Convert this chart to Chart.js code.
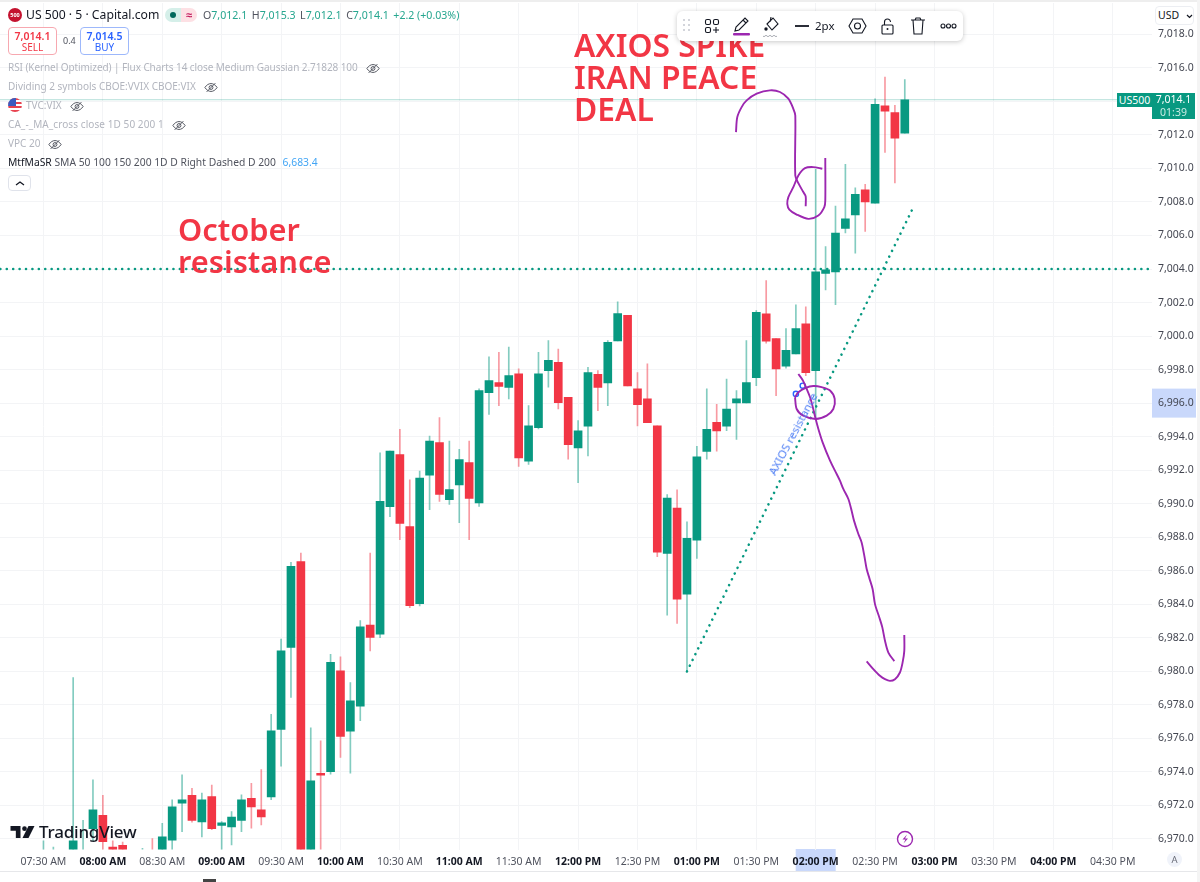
<!DOCTYPE html>
<html>
<head>
<meta charset="utf-8">
<title>US 500</title>
<script src="https://cdn.jsdelivr.net/npm/chart.js@4"></script>
<style>
html, body { margin: 0; padding: 0; background: #fff; }
body { width: 1200px; height: 882px; position: relative; overflow: hidden; font-family: "Noto Sans", sans-serif; color: #131722; }
canvas { position: absolute; left: 0; top: 0; }
.abs { position: absolute; white-space: nowrap; }
.leg { position: absolute; left: 8px; font-size: 10px; line-height: 14px; color: #b2b5be; white-space: nowrap; }
.leg svg { vertical-align: -3px; margin-left: 8px; }
.red { position: absolute; color: #f23645; font-weight: 600; white-space: nowrap; }
.box { position: absolute; box-sizing: border-box; border-radius: 4px; text-align: center; background: #fff; }
.ohlc { color: #50535e; }
.ohlc b { font-weight: 400; color: #26a68f; margin-right: 4.5px; }
.tb { position: absolute; top: 0; }
</style>
</head>
<body>
<canvas id="priceChart" width="1200" height="882"></canvas>

<div class="abs" style="left:0;top:0;width:1200px;height:2px;background:#eeeeee"></div>
<div class="abs" style="left:1197px;top:0;width:3px;height:882px;background:#f4f4f4"></div>
<div class="abs" style="left:0;top:871px;width:1197px;height:1px;background:#e6e7ea"></div>
<div class="abs" style="left:203px;top:879px;width:13px;height:3px;background:#444"></div>

<!-- header -->
<div class="abs" style="left:8px;top:8px;width:14px;height:14px;border-radius:50%;background:#c4122f;color:#fff;font-size:5.5px;line-height:14px;text-align:center;font-weight:700">500</div>
<div class="abs" style="left:26px;top:6px;font-size:12.2px;line-height:18px">US 500 · 5 · Capital.com</div>
<div class="abs" style="left:165px;top:8px;width:16px;height:14px;border-radius:7px 0 0 7px;background:#d5efe9"></div>
<div class="abs" style="left:181px;top:8px;width:16px;height:14px;border-radius:0 7px 7px 0;background:#fde0e4;color:#c2185b;font-size:11px;line-height:13px;text-align:center;font-weight:700">≈</div>
<div class="abs" style="left:170px;top:12px;width:6px;height:6px;border-radius:50%;background:#00695c"></div>
<div class="abs ohlc" style="left:203px;top:7px;font-size:10.6px;line-height:16px">O<b>7,012.1</b>H<b>7,015.3</b>L<b>7,012.1</b>C<b>7,014.1</b><b>+2.2 (+0.03%)</b></div>

<div class="box" style="left:8px;top:27px;width:49px;height:28px;border:1px solid #f7a8b0;color:#f23645;font-size:10px;line-height:11px;padding-top:3px"><span style="font-weight:600;font-size:10.5px">7,014.1</span><br>SELL</div>
<div class="abs" style="left:63px;top:35px;font-size:9px;line-height:12px;color:#50535e">0.4</div>
<div class="box" style="left:80px;top:27px;width:49px;height:28px;border:1px solid #9db8fb;color:#2962ff;font-size:10px;line-height:11px;padding-top:3px"><span style="font-weight:600;font-size:10.5px">7,014.5</span><br>BUY</div>

<svg width="0" height="0" style="position:absolute">
  <symbol id="eye" viewBox="0 0 16 12"><path d="M1 6c2-3 4.500-4.500 7-4.500S13 3 15 6c-2 3-4.500 4.500-7 4.500S3 9 1 6z" fill="none" stroke="#50535e" stroke-width="1.100"/><circle cx="8" cy="6" r="2.200" fill="none" stroke="#50535e" stroke-width="1.100"/><path d="M3 11L13 1" stroke="#50535e" stroke-width="1.100"/></symbol>
</svg>
<div class="leg" style="top:60px;letter-spacing:-.08px">RSI (Kernel Optimized) | Flux Charts 14 close Medium Gaussian 2.71828 100<svg width="14" height="11"><use href="#eye"/></svg></div>
<div class="leg" style="top:79px">Dividing 2 symbols CBOE:VVIX CBOE:VIX<svg width="14" height="11"><use href="#eye"/></svg></div>
<div class="abs" style="left:8px;top:98px;width:14px;height:14px;border-radius:50%;overflow:hidden;background:repeating-linear-gradient(#e8424f 0 2px,#fff 2px 4px)"><div style="width:8px;height:8px;background:#3b5bbf"></div></div>
<div class="leg" style="top:98px;left:26px">TVC:VIX<svg width="14" height="11"><use href="#eye"/></svg></div>
<div class="leg" style="top:117px;letter-spacing:.08px">CA_-_MA_cross close 1D 50 200 1<svg width="14" height="11"><use href="#eye"/></svg></div>
<div class="leg" style="top:136px">VPC 20<svg width="14" height="11"><use href="#eye"/></svg></div>
<div class="leg" style="top:155px;color:#50535e;font-size:10.3px"><span style="color:#131722">MtfMaSR</span> SMA 50 100 150 200 1D D Right Dashed D 200 <span style="color:#42a5f5;margin-left:4px">6,683.4</span></div>
<div class="box" style="left:8px;top:175px;width:23px;height:16px;border:1px solid #e0e3eb"><svg width="10" height="6" style="position:absolute;left:6px;top:4px"><path d="M1 5l4-3 4 3" fill="none" stroke="#131722" stroke-width="1.300"/></svg></div>

<!-- drawn text -->
<div class="red" style="left:574px;top:29px;font-size:31.8px;line-height:32px">AXIOS SPIKE<br>IRAN PEACE<br>DEAL</div>
<div class="red" style="left:178px;top:213px;font-size:30.8px;line-height:32px">October<br>resistance</div>
<div class="abs" style="left:793px;top:434px;font-size:11.5px;line-height:14px;color:#4f7ff5;transform:translate(-50%,-50%) rotate(-62deg)">AXIOS resistance</div>

<!-- drawing toolbar -->
<div class="abs" style="left:677px;top:11px;width:286px;height:30px;background:#fff;border-radius:6px;box-shadow:0 1px 5px rgba(0,0,0,.22)">
  <svg class="tb" width="286" height="30" style="left:0" fill="none" stroke="#131722" stroke-width="1.100">
    <g fill="#c5c7cf" stroke="none"><circle cx="7" cy="9" r="1"/><circle cx="12" cy="9" r="1"/><circle cx="7" cy="14" r="1"/><circle cx="12" cy="14" r="1"/><circle cx="7" cy="19" r="1"/><circle cx="12" cy="19" r="1"/></g>
    <rect x="28.500" y="8.500" width="5" height="5" rx="1.500"/><rect x="36.500" y="8.500" width="5" height="5" rx="1.500"/><rect x="28.500" y="16.500" width="5" height="5" rx="1.500"/><path d="M39 16v6M36 19h6"/>
    <path d="M58 20l1-4 9-9 3 3-9 9zM66 9l3 3M57 23h14"/>
    <rect x="56" y="22" width="17" height="2.500" rx="1" fill="#9c27b0" stroke="none"/>
    <path d="M90 13l6-6 5 6-6 6zM94 6l-1 5"/><circle cx="89" cy="18" r="1.700" fill="#131722" stroke="none"/>
    <path d="M86 25q1 1.500 2 0t2 0 2 0 2 0 2 0 2 0 2 0" stroke="#9598a1" stroke-width=".8"/>
    <path d="M118 15h14" stroke-width="1.800"/>
    <path d="M172 15l4-7h9l4 7-4 7h-9z"/><circle cx="180.500" cy="15" r="3"/>
    <rect x="205" y="14" width="11" height="9" rx="1"/><path d="M207.500 14v-3a3 3 0 0 1 6 0"/><circle cx="210.500" cy="18" r="1" fill="#131722" stroke="none"/>
    <path d="M234 9h14M238 9l1-2h4l1 2M236 9l1 14h8l1-14"/>
    <circle cx="266" cy="15" r="2"/><circle cx="271.500" cy="15" r="2"/><circle cx="277" cy="15" r="2"/>
  </svg>
  <div class="abs" style="left:138px;top:7px;font-size:11.5px;line-height:16px">2px</div>
</div>

<!-- price scale extras -->
<div class="box" style="left:1155px;top:6px;width:39px;height:19px;border:1px solid #eceef2;font-size:10.5px;line-height:17px;text-align:left;padding-left:2px">USD<svg width="7" height="5" style="position:absolute;left:30px;top:7px"><path d="M1 1l2.500 2.500L6 1" fill="none" stroke="#131722" stroke-width="1.200"/></svg></div>
<div class="abs" style="left:1117px;top:93px;width:35px;height:14px;background:#089981;color:#fff;font-size:10.5px;line-height:14px;text-align:center">US500</div>
<div class="abs" style="left:1152px;top:93px;width:43px;height:26px;background:#089981;color:#fff;font-size:10.5px;line-height:13px;text-align:center">7,014.1<br><span style="color:#c8ebe4">01:39</span></div>

<!-- bottom items -->
<div class="abs" style="left:1167px;top:852px;width:15px;height:15px;border-radius:50%;background:#f0f3fa;color:#6a6d78;font-size:9.5px;line-height:15px;text-align:center">A</div>
<svg class="abs" style="left:896px;top:830px" width="18" height="18"><circle cx="9" cy="9" r="7.500" fill="#fff" stroke="#9c27b0" stroke-width="1.400"/><path d="M11 4.500L6.500 9.500h3L7.500 13.500l4.500-5h-3z" fill="#9c27b0"/></svg>
<svg class="abs" style="left:10px;top:826px" width="25" height="12" viewBox="0 0 36 18"><path d="M0 0h15v18H8V7H0z" fill="#131722"/><circle cx="21" cy="4" r="3.500" fill="#131722"/><path d="M27 0h9l-9 18h-9z" fill="#131722"/></svg>
<div class="abs" style="left:39px;top:820px;font-size:17px;line-height:24px;font-weight:500;letter-spacing:-.2px">TradingView</div>

<script>
// bars are 5 min apart, bar 0 is 07:30 AM. bars whose bodies drop under the axis are guesses
var open = [6968.2,6968.5,6968.0,6966.8,6968.2,6970.62,6971.41,6969.52,6969.62,6968.5,6968.3,6968.8,6968.5,6969.92,6972.13,6972.6,6971.01,6972.53,6970.8,6970.72,6971.11,6972.43,6971.73,6972.51,6976.53,6981.42,6986.54,6966.9,6973.92,6974.02,6980.03,6976.43,6977.92,6982.76,6982.22,6989.82,6992.93,6988.63,6984.03,6991.7,6993.64,6990.24,6991.12,6992.45,6990.04,6996.63,6997.22,6996.93,6997.74,6992.53,6994.54,6997.94,6998.44,6996.35,6993.32,6994.62,6997.72,6997.2,6999.71,7001.24,6996.85,6996.25,6994.64,6987.03,6989.74,6984.6,6987.83,6993.12,6994.86,6994.62,6996.01,6996.01,6997.52,7001.32,6999.85,6998.2,6998.93,7000.73,6997.94,7003.73,7003.83,7006.42,7007.23,7008.73,7007.93,7013.74,7013.34,7012.1];
var high = [6969.88,6969.52,6968.9,6979.63,6971.11,6973.52,6972.6,6969.88,6969.82,6968.9,6969.44,6970.02,6970.93,6972.33,6973.82,6973.02,6972.73,6973.22,6971.03,6971.63,6972.63,6973.32,6974.14,6977.44,6981.92,6986.5,6987.06,6976.63,6975.85,6981.02,6980.86,6979.33,6983.02,6987.06,6993.04,6993.14,6994.44,6991.43,6991.95,6994.04,6995.13,6993.74,6993.24,6993.74,6996.85,6998.76,6999.03,6999.35,6998.04,6995.85,6999.03,6999.73,6999.23,6996.35,6994.96,6998.14,6997.94,6999.73,7002.04,7001.24,6997.82,6998.34,6994.64,6990.54,6990.83,6988.92,6993.42,6996.85,6995.93,6997.44,6996.75,6999.73,7001.52,7003.31,6999.85,7000.45,7001.86,7001.74,7009.94,7005.34,7007.75,7010.24,7008.85,7009.05,7014.16,7015.45,7013.76,7015.3];
var low = [6967.5,6967.8,6967.4,6966.4,6967.6,6969.9,6968.2,6968.0,6967.9,6967.8,6967.9,6967.8,6968.1,6968.8,6970.44,6971.0,6970.12,6970.56,6968.9,6969.64,6970.44,6970.64,6970.84,6972.35,6974.34,6978.44,6966.5,6966.2,6968.5,6973.86,6974.86,6973.92,6977.05,6981.22,6982.0,6989.22,6987.85,6983.8,6983.9,6989.64,6990.14,6989.96,6988.87,6987.85,6989.84,6995.33,6995.85,6996.25,6992.23,6992.35,6994.46,6996.95,6995.65,6992.65,6991.25,6992.85,6995.55,6995.85,6999.71,6997.03,6994.64,6994.84,6986.84,6983.35,6982.86,6979.99,6986.74,6992.65,6993.14,6994.36,6993.84,6996.01,6997.04,6999.57,6996.45,6998.08,6998.93,6997.64,6995.05,7002.76,7001.88,7006.16,7004.95,7006.24,7007.93,7010.96,7009.14,7012.1];
var close = [6968.6,6968.7,6968.4,6969.88,6968.9,6971.73,6969.84,6968.7,6968.5,6968.2,6968.7,6968.2,6970.12,6971.91,6972.33,6971.11,6972.33,6970.62,6970.96,6971.31,6972.33,6971.91,6971.31,6976.45,6981.22,6986.26,6967.4,6973.46,6973.8,6980.53,6976.11,6978.24,6982.66,6982.02,6990.14,6993.14,6988.83,6983.91,6991.53,6993.74,6990.56,6990.84,6992.63,6990.32,6996.75,6997.34,6997.0,6997.64,6992.73,6994.64,6997.74,6998.56,6996.03,6993.52,6994.34,6997.82,6996.93,6999.63,7001.34,6997.03,6995.91,6994.84,6987.11,6990.34,6984.31,6987.93,6992.8,6994.44,6994.34,6995.65,6996.25,6997.22,7001.42,6999.69,6998.04,6999.15,7000.45,6997.82,7003.83,7003.95,7006.14,7007.0,7008.45,7008.01,7013.82,7013.42,7011.81,7014.1];

var timeLabels = ['07:30 AM','08:00 AM','08:30 AM','09:00 AM','09:30 AM','10:00 AM','10:30 AM','11:00 AM','11:30 AM','12:00 PM','12:30 PM','01:00 PM','01:30 PM','02:00 PM','02:30 PM','03:00 PM','03:30 PM','04:00 PM','04:30 PM'];
var timeTicks = [0,6,12,18,24,30,36,42,48,54,60,66,72,78,84,90,96,102,108];
var priceTicks = [6970,6972,6974,6976,6978,6980,6982,6984,6986,6988,6990,6992,6994,6996,6998,7000,7002,7004,7006,7008,7010,7012,7014,7016,7018];

var lastPrice = 7014.1;
var octoberLevel = 7004;
// [bar, price] pairs for what was drawn on the chart
var trendLine = [[65,6979.99],[87.9,7007.73]];
var anchors = [[76.0,6996.55],[76.69,6997.04]];
var hookStroke = [[69.95,7012.17],[70.08,7013.06],[70.52,7013.66],[71.03,7014.06],[72.04,7014.46],[73.38,7014.66],[74.39,7014.56],[75.24,7014.16],[75.74,7013.56],[75.94,7013.16],[75.94,7009.58],[76.25,7009.12],[76.75,7008.59],[76.99,7008.33],[76.99,7007.75]];
var loopStroke = [[78.67,7009.98],[77.76,7010.08],[76.92,7010.02],[76.25,7009.58],[75.74,7008.88],[75.24,7008.29],[75.13,7007.89],[75.34,7007.55],[76.08,7007.25],[77.26,7006.99],[78.27,7007.19],[78.87,7007.69],[78.97,7008.09],[78.97,7010.62]];
var circleStroke = [[75.91,6996.35],[76.08,6995.65],[76.75,6995.25],[78.0,6995.05],[79.11,6995.25],[79.78,6995.65],[79.92,6996.25],[79.45,6996.75],[78.6,6996.95],[77.76,6997.02],[76.99,6996.91],[76.25,6996.65],[75.91,6996.35]];
var tailStroke = [[76.25,6997.74],[76.68,6997.38],[77.09,6996.85],[77.49,6996.25],[78.0,6995.05],[78.27,6994.46],[78.7,6993.66],[79.45,6992.57],[80.12,6991.77],[80.45,6991.37],[80.79,6990.88],[81.3,6990.28],[81.63,6989.58],[81.87,6988.99],[82.31,6988.19],[82.64,6987.69],[82.91,6986.9],[83.15,6986.1],[83.42,6985.56],[83.75,6984.91],[83.99,6984.01],[84.43,6983.21],[84.73,6982.62],[85.0,6981.82],[85.34,6981.12],[85.94,6980.61]];
var endStroke = [[83.15,6980.59],[83.82,6980.13],[84.49,6979.73],[85.0,6979.53],[85.5,6979.43],[86.01,6979.53],[86.51,6979.93],[86.78,6980.53],[86.95,6981.22],[86.95,6982.16]];

var green = '#089981';
var red = '#f23645';
var purple = '#9c27b0';

function isUp(i) { return close[i] >= open[i]; }
function pts(list) { return list.map(function (p) { return {x: p[0], y: p[1]}; }); }
function stroke(list) {
    return {type: 'line', data: pts(list), borderColor: purple, borderWidth: 1.9, pointRadius: 0, tension: 0.3, order: 0};
}
function dotted(list) {
    return {type: 'line', data: pts(list), borderColor: green, borderWidth: 2.6, borderDash: [0.01, 6.4], borderCapStyle: 'round', pointRadius: 0, order: 1};
}

// blue boxes behind the crosshair labels, drawn before the axes
var crosshairBoxes = {
    id: 'crosshairBoxes',
    beforeDraw: function (chart) {
        var c = chart.ctx, xs = chart.scales.x, ys = chart.scales.y;
        c.save();
        c.fillStyle = '#c9d8fb';
        c.fillRect(xs.getPixelForValue(78) - 20, 849, 40, 22);
        c.fillRect(1152, ys.getPixelForValue(6996) - 14.5, 44, 29);
        c.restore();
    }
};

var chart = new Chart(document.getElementById('priceChart').getContext('2d'), {
    type: 'bar',
    data: {
        datasets: [
            stroke(hookStroke), stroke(loopStroke), stroke(circleStroke), stroke(tailStroke), stroke(endStroke),
            {type: 'line', data: pts(anchors), showLine: false, pointRadius: 2.6, pointBorderWidth: 1.4, pointBackgroundColor: '#fff', pointBorderColor: '#2962ff', order: 0},
            dotted(trendLine),
            dotted([[-5, octoberLevel], [112, octoberLevel]]),
            {
                data: open.map(function (o, i) { return {x: i, y: [o, close[i]]}; }),
                backgroundColor: open.map(function (o, i) { return isUp(i) ? green : red; }),
                barThickness: 8, grouped: false, order: 2
            },
            {
                data: open.map(function (o, i) { return {x: i, y: [low[i], high[i]]}; }),
                backgroundColor: open.map(function (o, i) { return isUp(i) ? 'rgba(8,153,129,0.5)' : 'rgba(242,54,69,0.5)'; }),
                barThickness: 1, grouped: false, order: 3
            },
            {type: 'line', data: [{x: -5, y: lastPrice}, {x: 112, y: lastPrice}], borderColor: 'rgba(8,153,129,0.3)', borderWidth: 1, pointRadius: 0, order: 4}
        ]
    },
    options: {
        responsive: false,
        animation: false,
        layout: {autoPadding: false, padding: {top: 3}},
        plugins: {legend: {display: false}, tooltip: {enabled: false}},
        scales: {
            x: {
                type: 'linear', min: -4.39, max: 111.97, offset: false,
                afterBuildTicks: function (axis) { axis.ticks = timeTicks.map(function (v) { return {value: v}; }); },
                afterFit: function (axis) { axis.height = 32.5; axis.paddingLeft = 0; axis.paddingRight = 0; },
                grid: {color: '#f3f4f6', drawTicks: false, offset: false},
                border: {display: false},
                ticks: {
                    autoSkip: false, maxRotation: 0, padding: 6,
                    font: function (ctx) {
                        var v = ctx.tick ? ctx.tick.value : 0;
                        return {family: 'Noto Sans', size: 10.5, weight: v % 12 === 6 ? '700' : '400'};
                    },
                    color: function (ctx) { return ctx.tick && ctx.tick.value % 12 === 6 ? '#131722' : '#50535e'; },
                    callback: function (v) { return timeLabels[timeTicks.indexOf(v)]; }
                }
            },
            y: {
                position: 'right', min: 6969.37, max: 7019.87,
                afterBuildTicks: function (axis) { axis.ticks = priceTicks.map(function (v) { return {value: v}; }); },
                afterFit: function (axis) { axis.width = 48; axis.paddingTop = 0; axis.paddingBottom = 0; },
                grid: {color: '#f3f4f6', drawTicks: false},
                border: {display: false},
                ticks: {
                    padding: 6, color: '#434651',
                    font: {family: 'Noto Sans', size: 10.5},
                    callback: function (v) { return v.toLocaleString('en-US', {minimumFractionDigits: 1, maximumFractionDigits: 1}); }
                }
            }
        }
    },
    plugins: [crosshairBoxes]
});
</script>
</body>
</html>
